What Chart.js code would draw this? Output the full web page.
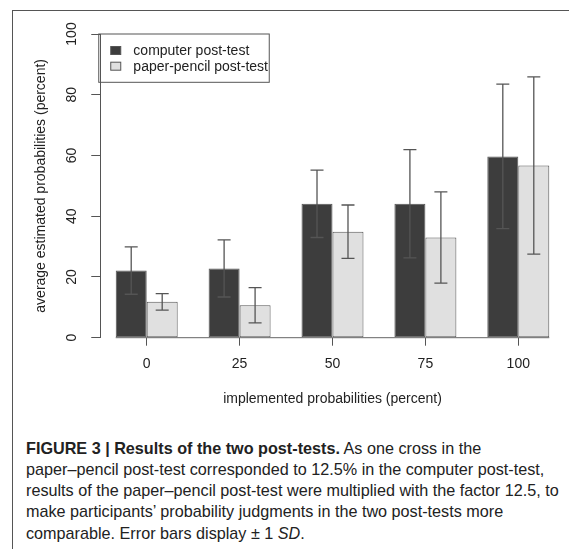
<!DOCTYPE html>
<html>
<head>
<meta charset="utf-8">
<script src="https://cdn.jsdelivr.net/npm/chart.js@4.4.1/dist/chart.umd.min.js"></script>
<style>
  body { margin: 0; background: #fff; }
  #wrap { position: relative; width: 569px; height: 549px; overflow: hidden; }
  #frame { position: absolute; left: 12px; top: 10px; width: 620px; height: 620px; border-top: 1px solid #555; border-left: 1px solid #555; }
  #chart { position: absolute; left: 0; top: 0; }
  #caption { position: absolute; left: 26px; top: 437.5px; font-family: "Liberation Sans", Arial, sans-serif; font-size: 16.2px; line-height: 21.3px; color: #222; white-space: nowrap; }
</style>
</head>
<body>
<div id="wrap">
  <div id="frame"></div>
  <canvas id="chart" width="569" height="420"></canvas>
  <div id="caption"><b>FIGURE 3 | Results of the two post-tests.</b> As one cross in the<br>paper–pencil post-test corresponded to 12.5% in the computer post-test,<br>results of the paper–pencil post-test were multiplied with the factor 12.5, to<br>make participants’ probability judgments in the two post-tests more<br>comparable. Error bars display ± 1 <i>SD</i>.</div>
</div>
<script>
const categories = ['0', '25', '50', '75', '100'];
const computerMeans = [22.1, 22.8, 44.1, 44.1, 59.7];
const computerSD = [7.8, 9.4, 11.1, 17.8, 23.8];
const paperMeans = [11.8, 10.7, 34.9, 33.0, 56.7];
const paperSD = [2.7, 5.8, 8.8, 15.0, 29.2];
const yTicks = [0, 20, 40, 60, 80, 100];

const FONT = '"Liberation Sans", Arial, sans-serif';
Chart.defaults.font.family = FONT;
Chart.defaults.font.size = 14;
Chart.defaults.color = '#222';

// error bars, baseline and boxed legend drawn R-style
const rPlot = {
  id: 'rPlot',
  afterDatasetsDraw(chart) {
    const ctx = chart.ctx;
    const y = chart.scales.y;
    const sds = [computerSD, paperSD];
    ctx.save();

    const first = chart.getDatasetMeta(0).data[0];
    const last = chart.getDatasetMeta(1).data[categories.length - 1];
    const y0 = y.getPixelForValue(0);
    ctx.strokeStyle = '#666';
    ctx.lineWidth = 1;
    ctx.beginPath();
    ctx.moveTo(first.x - first.width / 2, y0);
    ctx.lineTo(last.x + last.width / 2, y0);
    ctx.stroke();

    ctx.strokeStyle = '#555';
    ctx.lineWidth = 1.3;
    chart.data.datasets.forEach((ds, i) => {
      chart.getDatasetMeta(i).data.forEach((bar, j) => {
        const top = y.getPixelForValue(ds.data[j] + sds[i][j]);
        const bot = y.getPixelForValue(ds.data[j] - sds[i][j]);
        ctx.beginPath();
        ctx.moveTo(bar.x, top); ctx.lineTo(bar.x, bot);
        ctx.moveTo(bar.x - 6.5, top); ctx.lineTo(bar.x + 6.5, top);
        ctx.moveTo(bar.x - 6.5, bot); ctx.lineTo(bar.x + 6.5, bot);
        ctx.stroke();
      });
    });

    // legend
    const lx = chart.chartArea.left - 1.5;
    const ly = y.getPixelForValue(100);
    ctx.strokeStyle = '#555';
    ctx.lineWidth = 1;
    ctx.strokeRect(lx, ly, 170.5, 48.3);
    ctx.font = '14px ' + FONT;
    ctx.textBaseline = 'middle';
    ctx.fillStyle = '#222';
    chart.data.datasets.forEach((ds, i) => {
      const cy = ly + 17 + i * 15.7;
      ctx.fillStyle = ds.backgroundColor;
      ctx.fillRect(lx + 12, cy - 4.5, 10, 8);
      ctx.strokeStyle = '#555';
      ctx.strokeRect(lx + 12, cy - 4.5, 10, 8);
      ctx.fillStyle = '#222';
      ctx.fillText(ds.label, lx + 34.6, cy);
    });
    ctx.restore();
  }
};

new Chart(document.getElementById('chart'), {
  type: 'bar',
  data: {
    labels: categories,
    datasets: [
      {
        label: 'computer post-test',
        data: computerMeans,
        backgroundColor: '#3d3d3d',
        borderColor: '#555',
        borderWidth: 1,
        borderSkipped: false
      },
      {
        label: 'paper-pencil post-test',
        data: paperMeans,
        backgroundColor: '#e0e0e0',
        borderColor: '#555',
        borderWidth: 1,
        borderSkipped: false
      }
    ]
  },
  options: {
    responsive: false,
    animation: false,
    devicePixelRatio: 1,
    categoryPercentage: 0.667,
    barPercentage: 1,
    layout: { padding: { top: 34, right: 4.25, left: 0, bottom: 0 } },
    plugins: { legend: { display: false }, tooltip: { enabled: false } },
    scales: {
      x: {
        afterFit: s => { s.height = 420 - 337.7; },
        border: { display: false },
        grid: { drawOnChartArea: false, offset: false, tickLength: 8, color: '#555' },
        ticks: { padding: 10, color: '#222' },
        title: { display: true, text: 'implemented probabilities (percent)', color: '#222', padding: { bottom: 12.3 } }
      },
      y: {
        min: 0,
        max: 100,
        afterBuildTicks: s => { s.ticks = yTicks.map(v => ({ value: v })); },
        afterFit: s => { s.width = 100.25; },
        border: { display: true, color: '#555', width: 1 },
        grid: { drawOnChartArea: false, tickLength: 9, color: '#555' },
        ticks: { minRotation: 90, maxRotation: 90, crossAlign: 'center', padding: 7, color: '#222' },
        title: { display: true, text: 'average estimated probabilities (percent)', color: '#222', padding: { top: 33 } }
      }
    }
  },
  plugins: [rPlot]
});
</script>
</body>
</html>
